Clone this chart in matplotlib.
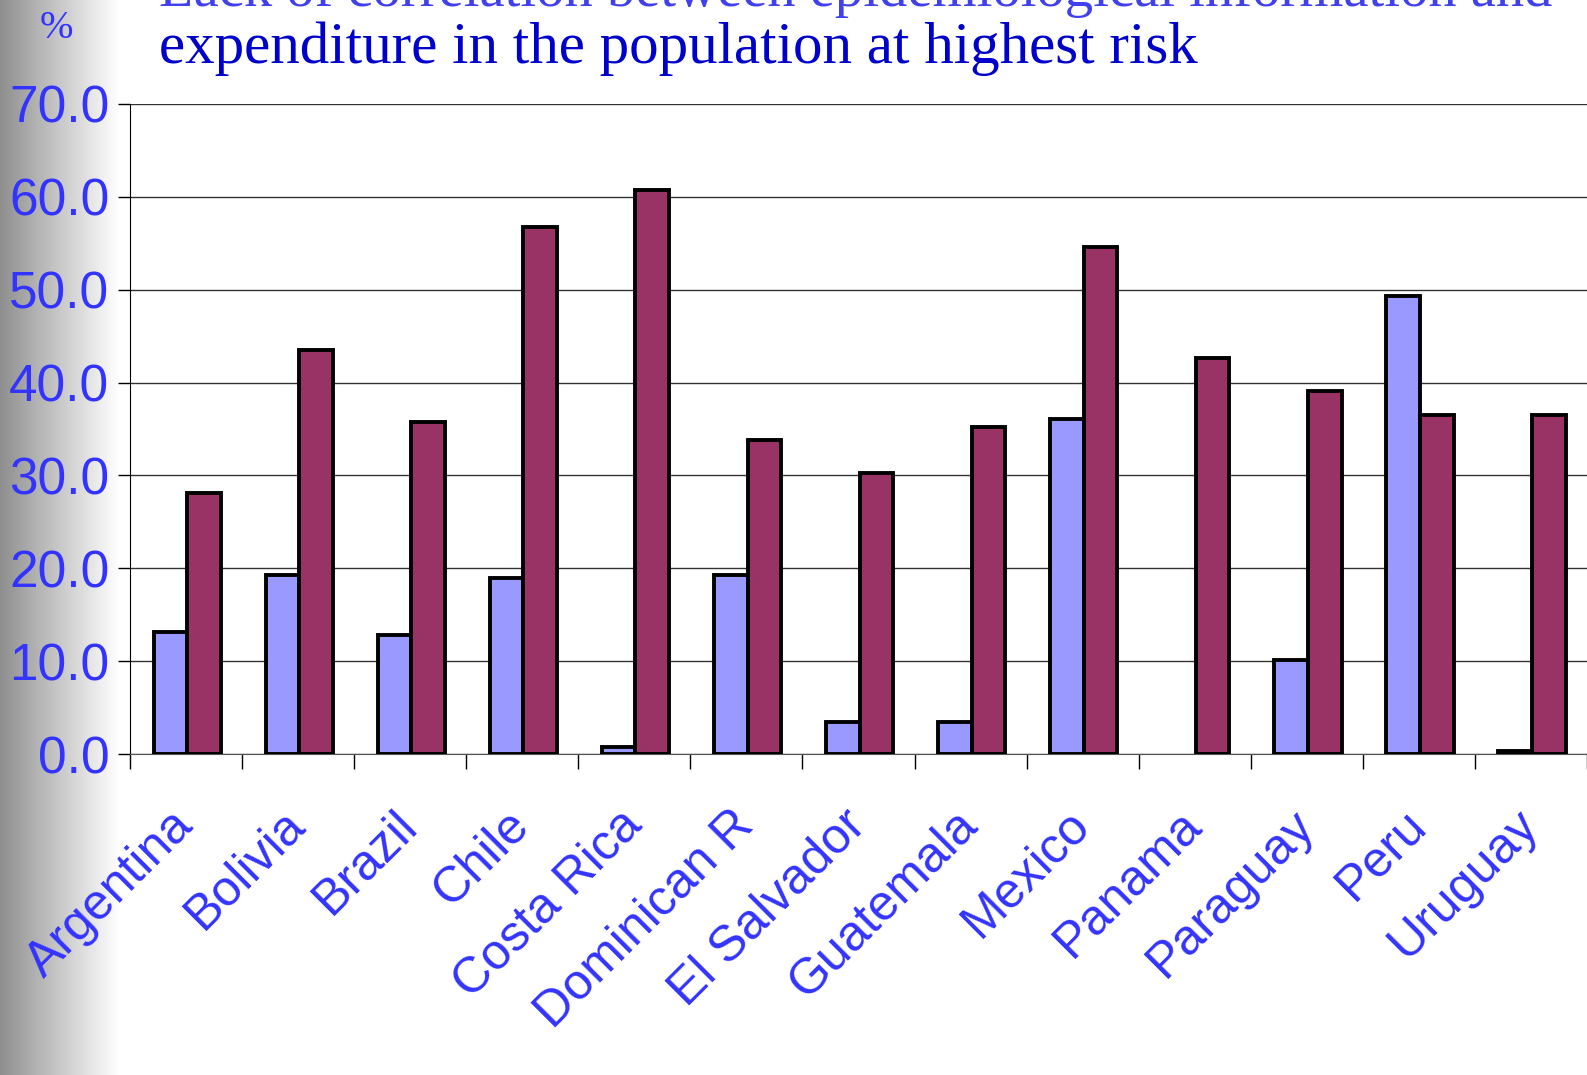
import numpy as np
import matplotlib.pyplot as plt

countries = ["Argentina", "Bolivia", "Brazil", "Chile", "Costa Rica", "Dominican R",
             "El Salvador", "Guatemala", "Mexico", "Panama", "Paraguay", "Peru", "Uruguay"]
epi = [13.1, 19.3, 12.8, 18.9, 0.8, 19.3, 3.5, 3.5, 36.1, 0.0, 10.1, 49.3, 0.3]
spend = [28.1, 43.5, 35.8, 56.7, 60.7, 33.8, 30.3, 35.2, 54.6, 42.6, 39.1, 36.5, 36.5]
yticks = [0, 10, 20, 30, 40, 50, 60, 70]

tick_blue = '#3333FF'
title_blue = '#0000CC'

fig = plt.figure(figsize=(15.87, 10.75), dpi=100)

# grey gradient strip on the left of the slide
bg = fig.add_axes([0, 0, 0.075, 1], zorder=-5)
grad = np.linspace(0.48, 1.0, 256) ** 0.8
bg.imshow(np.tile(grad, (2, 1)), cmap='gray', vmin=0, vmax=1, aspect='auto',
          extent=[0, 1, 0, 1])
bg.axis('off')

ax = fig.add_axes([0.0819, 0.2986, 0.9181, 0.6047])
ax.patch.set_alpha(0)

x = np.arange(len(countries))
w = 0.3
lw_epi = [0 if v == 0 else 2.8 for v in epi]
ax.bar(x - w / 2 + 0.01, epi, w, color='#9999FF', edgecolor='black', linewidth=lw_epi, zorder=3)
ax.bar(x + w / 2 + 0.01, spend, w, color='#993366', edgecolor='black', linewidth=2.8, zorder=3)

ax.set_xlim(-0.5, len(countries) - 0.5)
ax.set_ylim(0, 70)
ax.set_yticks(yticks)
ax.set_yticklabels(["%.1f" % v for v in yticks])
ax.yaxis.grid(True, color='#333333', linewidth=1.0, zorder=0)
ax.tick_params(axis='y', direction='out', length=9, width=1, colors='black',
               labelcolor=tick_blue, labelsize=37, pad=6)
for lab in ax.get_yticklabels():
    lab.set_fontfamily('Liberation Sans')

ax.set_xticks(x)
ax.set_xticklabels(countries, rotation=45, ha='right', va='center',
                   rotation_mode='anchor', fontfamily='Liberation Sans')
ax.tick_params(axis='x', which='major', length=0, labelcolor=tick_blue, labelsize=36, pad=46)
ax.set_xticks(np.arange(len(countries) + 1) - 0.5, minor=True)
ax.tick_params(axis='x', which='minor', direction='out', length=11, width=1, color='black')

for s in ['top', 'right']:
    ax.spines[s].set_visible(False)
ax.spines['left'].set_color('black')
ax.spines['bottom'].set_color('#555555')

fig.text(159 / 1587, 1 - 6 / 1075,
         "Lack of correlation between epidemiological information and",
         fontsize=40.8, family='Liberation Serif', color='#4040EE', va='baseline')
fig.text(159 / 1587, 1 - 63 / 1075, "expenditure in the population at highest risk",
         fontsize=42.5, family='Liberation Serif', color=title_blue, va='baseline')
fig.text(56 / 1587, 1 - 29 / 1075, "%", fontsize=29, family='Liberation Serif',
         color=tick_blue, ha='center', va='center')

fig.savefig('out.png', dpi=100)
